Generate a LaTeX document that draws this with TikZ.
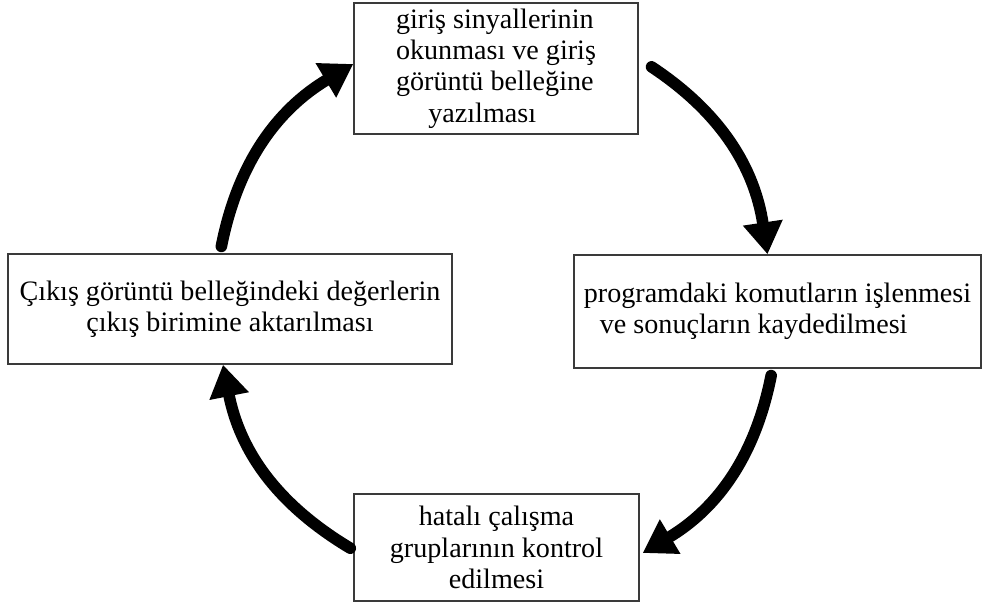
\documentclass[tikz,border=0pt]{standalone}
\usepackage{fontspec}
\setmainfont{Liberation Serif}
\usepackage{tikz}
\usetikzlibrary{positioning,arrows.meta}
\definecolor{boxgray}{HTML}{3A3A3A}

\begin{document}
\begin{tikzpicture}[
  stagebox/.style={rectangle, draw=boxgray, line width=0.8pt, inner sep=0pt,
    font=\fontsize{16}{17.9}\selectfont},
  cyclearrow/.style={line width=6.6pt, line cap=round, draw=black,
    -{Triangle[length=0.64cm, width=0.76cm]}},
]
\useasboundingbox (0,0) rectangle (19.66,12.2);

% the four stages of the scan cycle
\node[stagebox, minimum width=5.68cm, minimum height=2.62cm, align=left] (tbox) at (9.92,10.83)
  {giriş sinyallerinin\\okunması ve giriş\\görüntü belleğine\\\hspace*{1.15em}yazılması};
\node[stagebox, minimum width=8.14cm, minimum height=2.26cm, align=left] (rbox) at (15.55,5.97)
  {programdaki komutların işlenmesi\\\hspace*{0.57em}ve sonuçların kaydedilmesi};
\node[stagebox, minimum width=5.70cm, minimum height=2.14cm, align=center] (bbox) at (9.93,1.25)
  {hatalı çalışma\\gruplarının kontrol\\edilmesi};
\node[stagebox, minimum width=8.88cm, minimum height=2.20cm, align=center] (lbox) at (4.60,6.02)
  {Çıkış görüntü belleğindeki değerlerin\\çıkış birimine aktarılması};

% clockwise arrows between the stages
\draw[cyclearrow, shorten <=4pt] ([xshift=-0.2cm]lbox.north) to[bend left=24] ([yshift=0.09cm]tbox.west);
\draw[cyclearrow, shorten <=4pt] ([xshift=0.14cm,yshift=0.11cm]tbox.east) to[bend left=24] ([xshift=-0.2cm]rbox.north);
\draw[cyclearrow, shorten <=4pt] ([xshift=-0.1cm]rbox.south) to[bend left=24] ([xshift=0.06cm,yshift=-0.11cm]bbox.east);
\draw[cyclearrow, shorten <=2pt] ([yshift=-0.05cm]bbox.west) to[bend left=24] ([xshift=-0.14cm]lbox.south);
\end{tikzpicture}
\end{document}
